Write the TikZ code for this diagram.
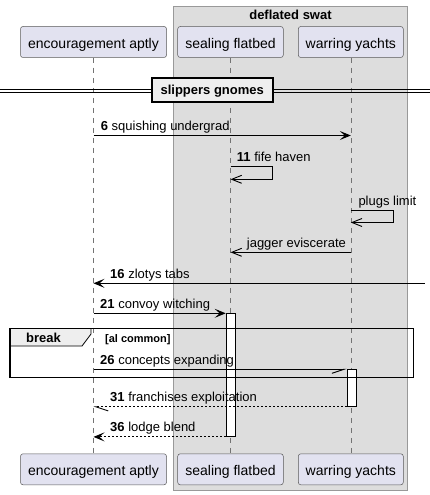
\documentclass[tikz,border=0pt]{standalone}
\usepackage{fontspec}
\setmainfont{Liberation Sans}
\usetikzlibrary{arrows.meta}
\definecolor{grpfill}{HTML}{DDDDDD}
\definecolor{grpline}{HTML}{999999}
\definecolor{partfill}{HTML}{E2E2F0}
\definecolor{tabfill}{HTML}{EEEEEE}
\begin{document}
\begin{tikzpicture}[x=1pt,y=-1pt,
  partbox/.style={draw=black!65, fill=partfill, line width=0.5pt, rounded corners=2.5pt,
    minimum height=31pt, inner sep=0pt, text height=16pt, text depth=3pt,
    font=\fontsize{14}{16}\selectfont},
  lifeline/.style={draw=black!55, line width=0.5pt, dash pattern=on 5pt off 5pt},
  msg/.style={draw=black, line width=0.9pt},
  retmsg/.style={msg, dash pattern=on 2pt off 2pt},
  fillhead/.style={-{Stealth[length=11pt,width=9pt,inset=5pt]}},
  openhead/.style={-{Straight Barb[length=10pt,width=8pt,line width=0.9pt]}},
  halfdown/.style={-{Straight Barb[right,length=12pt,width=8pt,line width=0.9pt]}},
  halfleft/.style={-{Straight Barb[left,length=12pt,width=8pt,line width=0.9pt]}},
  lbl/.style={anchor=base west, inner sep=0pt, font=\fontsize{13}{15}\selectfont},
  actbox/.style={draw=black, fill=white, line width=0.9pt, inner sep=0pt, minimum width=9.6pt},
  boldlbl/.style={inner sep=0pt, font=\fontsize{13}{15}\selectfont\bfseries}
]
\useasboundingbox (0,0) rectangle (430,495);
\fill[white] (0,0) rectangle (430,495);

% group box
\draw[grpline, fill=grpfill, line width=0.8pt] (173.3,6) rectangle (407.3,490);
\node[boldlbl, anchor=base] (grptitle) at (290.5,20) {deflated swat};

% participants
\node[partbox, minimum width=146pt] (eaT) at (93.5,42) {encouragement aptly};
\node[partbox, minimum width=105.6pt] (sfT) at (230.5,42) {sealing flatbed};
\node[partbox, minimum width=105pt] (wyT) at (350.8,42) {warring yachts};
\node[partbox, minimum width=146pt] (eaB) at (93.5,469.3) {encouragement aptly};
\node[partbox, minimum width=105.6pt] (sfB) at (230.5,469.3) {sealing flatbed};
\node[partbox, minimum width=105pt] (wyB) at (350.8,469.3) {warring yachts};

% lifelines
\draw[lifeline] (eaT.south) -- (eaB.north);
\draw[lifeline] (sfT.south) -- (sfB.north);
\draw[lifeline] (wyT.south) -- (wyB.north);

% divider
\coordinate (divL) at (0,90.5);
\coordinate (divR) at (430,90.5);
\draw[black, line width=0.8pt] ([yshift=-1.5pt]divL) -- ([yshift=-1.5pt]divR);
\draw[black, line width=0.8pt] ([yshift=1.5pt]divL) -- ([yshift=1.5pt]divR);
\node[draw=black, fill=tabfill, line width=2pt, minimum width=121pt, minimum height=24pt,
  inner sep=0pt, text height=10pt, text depth=1pt, font=\fontsize{13}{15}\selectfont\bfseries]
  (div) at (212.2,90) {slippers gnomes};

% activation boxes (drawn before frame)
\node[actbox, minimum height=122.7pt, anchor=north west] (act1) at (225.7,313.3) {};
\node[actbox, minimum height=36.7pt, anchor=north west] (act2) at (346.7,369.3) {};

% messages
\draw[msg, fillhead] (eaT |- 0,135.5) -- (wyT |- 0,135.5);
\node[lbl] (l6) at (100.7,130.5) {\textbf{6} squishing undergrad};

\draw[msg, openhead] (sfT |- 0,166.7) -- (272.3,166.7) -- (272.3,179.3) -- (sfT |- 0,179.3);
\node[lbl] (l11) at (236.7,161.5) {\textbf{11} fife haven};

\draw[msg, openhead] (wyT |- 0,210) -- (393.3,210) -- (393.3,222.5) -- (wyT |- 0,222.5);
\node[lbl] (lplugs) at (358.3,205.3) {plugs limit};

\draw[msg, openhead] (wyT |- 0,252.3) -- (sfT |- 0,252.3);
\node[lbl] (ljag) at (246.7,247.5) {jagger eviscerate};

\coordinate (src16) at (424.5,283.3);
\draw[msg, fillhead] (src16) -- (eaT |- src16);
\node[lbl] (l16) at (110,278.3) {\textbf{16} zlotys tabs};

\draw[msg, fillhead] (eaT |- act1.north west) -- (act1.north west);
\node[lbl] (l21) at (100,308.3) {\textbf{21} convoy witching};

\draw[msg, halfdown] (eaT |- act2.north west) -- (act2.north west);

\draw[retmsg, halfleft] (act2.south west) -- (eaT |- act2.south west);
\node[lbl] (l31) at (110,401) {\textbf{31} franchises exploitation};

\draw[retmsg, fillhead] (act1.south west) -- (eaT |- act1.south west);
\node[lbl] (l36) at (110,431) {\textbf{36} lodge blend};

% break frame
\draw[black, line width=0.8pt, fill=tabfill] (10,328.5) -- (91,328.5) -- (91,334) -- (82,346) -- (10,346) -- cycle;
\draw[black, line width=1.5pt] (10,328.5) rectangle (413.5,377.5);
\node[boldlbl, anchor=base] (brk) at (43.5,342.5) {break};
\node[anchor=base west, inner sep=0pt, font=\fontsize{11}{13}\selectfont\bfseries] (cond) at (105,342.5) {[al common]};
\node[lbl] (l26) at (100,364.3) {\textbf{26} concepts expanding};
\end{tikzpicture}
\end{document}
